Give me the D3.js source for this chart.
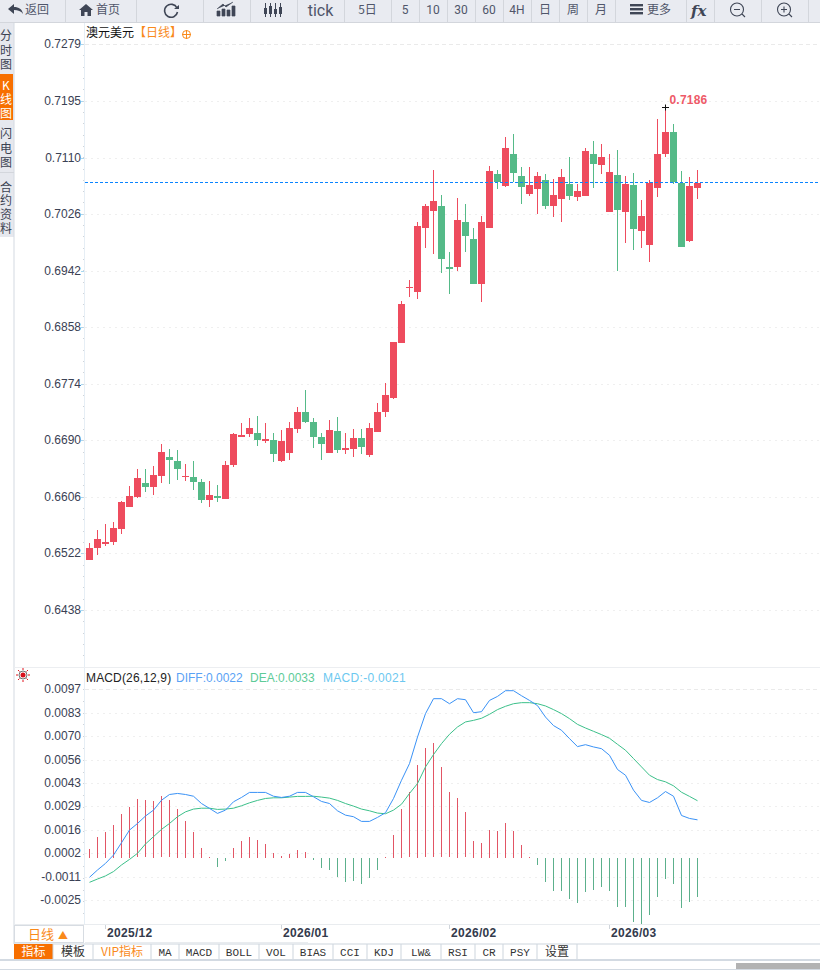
<!DOCTYPE html>
<html><head><meta charset="utf-8">
<script src="https://cdn.jsdelivr.net/npm/d3@7/dist/d3.min.js"></script>
<style>html,body{margin:0;padding:0;background:#fff;overflow:hidden}svg{display:block}</style>
</head><body><svg id="c" width="820" height="970"></svg>
<script>
const priceTicks=["0.7279","0.7195","0.7110","0.7026","0.6942","0.6858","0.6774","0.6690","0.6606","0.6522","0.6438"];
const macdTicks=["0.0097","0.0083","0.0070","0.0056","0.0043","0.0029","0.0016","0.0002","-0.0011","-0.0025"];
const dateLabels=["2025/12","2026/01","2026/02","2026/03"];
const dateIndex=[2,24,45,65];
const lastPrice=0.70738, highPrice=0.7186, highIndex=72;
const open=[.65123,.65301,.65361,.65390,.65583,.65910,.66059,.66267,.66208,.66371,.66653,.66594,.66356,.66356,.66282,.66014,.66074,.66029,.66534,.66950,.66995,.67010,.66891,.66906,.66594,.66713,.67069,.67322,.67173,.66950,.66713,.67040,.66757,.66772,.66936,.66683,.67025,.67322,.67530,.68348,.69170,.69105,.70056,.70309,.70383,.69477,.69477,.70145,.69893,.69224,.70056,.70859,.70680,.71156,.70829,.70561,.70636,.70769,.70382,.70486,.70709,.70516,.70531,.71155,.70992,.70293,.70843,.70293,.70694,.70011,.69803,.70650,.71155,.71482,.70724,.69862,.70650];
const close=[.65301,.65435,.65390,.65598,.65985,.66074,.66341,.66208,.66386,.66728,.66609,.66475,.66371,.66282,.66014,.66089,.66044,.66534,.66995,.66980,.67084,.66906,.66921,.66698,.66891,.67084,.67322,.67173,.66950,.66846,.67054,.66757,.66787,.66936,.66802,.67084,.67322,.67575,.68362,.68927,.69175,.70086,.70383,.70457,.69596,.69447,.70175,.69937,.69224,.70145,.70903,.70740,.71245,.70873,.70665,.70695,.70829,.70383,.70546,.70813,.70531,.70605,.71200,.71006,.71110,.70888,.70323,.70709,.70041,.70234,.70724,.71155,.71482,.70739,.69773,.70680,.70724];
const high=[.65370,.65569,.65658,.65687,.65999,.66222,.66475,.66475,.66520,.66846,.66772,.66757,.66549,.66594,.66326,.66297,.66237,.66594,.67010,.67158,.67233,.67262,.67158,.67010,.67054,.67173,.67396,.67649,.67233,.67010,.67203,.67248,.67010,.67069,.67069,.67158,.67456,.67753,.68362,.68972,.69284,.70145,.70413,.70918,.70547,.69700,.70502,.70413,.70056,.70235,.70977,.70918,.71408,.71453,.70963,.70963,.70888,.70859,.70784,.70932,.71110,.70709,.71244,.71348,.71304,.71155,.71214,.70828,.70873,.70472,.70769,.71675,.71860,.71601,.70902,.70813,.70917];
const low=[.65123,.65197,.65331,.65346,.65509,.65910,.66044,.66133,.66089,.66267,.66252,.66312,.66297,.66163,.65970,.65910,.65985,.66029,.66505,.66950,.66950,.66817,.66861,.66579,.66584,.66609,.67010,.67158,.66787,.66609,.66713,.66713,.66698,.66653,.66698,.66653,.67025,.67248,.67515,.68348,.69031,.69001,.69759,.69670,.69388,.69076,.69417,.69700,.69224,.68957,.70056,.70636,.70665,.70735,.70413,.70532,.70264,.70339,.70219,.70145,.70472,.70457,.70531,.70650,.70858,.70293,.69417,.69833,.69729,.69758,.69550,.70516,.71110,.70709,.69773,.69847,.70486];
const diff=[-.00113,-.00071,-.00033,.00015,.00086,.00159,.00197,.00240,.00274,.00331,.00364,.00370,.00364,.00354,.00312,.00284,.00255,.00274,.00322,.00347,.00376,.00376,.00376,.00354,.00347,.00354,.00376,.00376,.00351,.00324,.00312,.00270,.00245,.00236,.00209,.00209,.00232,.00259,.00341,.00446,.00542,.00695,.00830,.00916,.00916,.00887,.00916,.00910,.00835,.00841,.00906,.00929,.00962,.00962,.00933,.00906,.00876,.00810,.00761,.00734,.00686,.00640,.00651,.00638,.00628,.00590,.00508,.00475,.00389,.00330,.00318,.00345,.00381,.00354,.00243,.00226,.00218];
const dea=[-.00142,-.00123,-.00105,-.00080,-.00042,-.00010,.00025,.00079,.00121,.00163,.00197,.00236,.00264,.00280,.00285,.00285,.00278,.00280,.00285,.00299,.00316,.00330,.00341,.00345,.00345,.00349,.00353,.00353,.00354,.00349,.00343,.00330,.00312,.00297,.00280,.00270,.00257,.00253,.00274,.00308,.00370,.00427,.00523,.00594,.00657,.00711,.00753,.00782,.00791,.00803,.00826,.00853,.00872,.00887,.00893,.00893,.00887,.00874,.00853,.00830,.00801,.00768,.00747,.00728,.00709,.00688,.00653,.00619,.00571,.00523,.00475,.00450,.00437,.00414,.00377,.00353,.00328];
const macdBar=[.00050,.00119,.00148,.00188,.00251,.00291,.00337,.00331,.00326,.00354,.00331,.00280,.00211,.00148,.00056,.00004,-.00054,-.00019,.00056,.00096,.00119,.00102,.00079,.00027,.00010,.00021,.00044,.00033,-.00013,-.00059,-.00071,-.00111,-.00140,-.00134,-.00151,-.00117,-.00071,.00004,.00130,.00280,.00377,.00533,.00630,.00659,.00521,.00377,.00343,.00262,.00096,.00084,.00159,.00153,.00199,.00153,.00073,.00004,-.00042,-.00140,-.00192,-.00192,-.00238,-.00261,-.00197,-.00186,-.00169,-.00192,-.00284,-.00284,-.00370,-.00381,-.00330,-.00226,-.00123,-.00151,-.00289,-.00255,-.00226];
const toolbarCells=["返回","首页","","","","tick","5日","5","10","30","60","4H","日","周","月","更多","","",""];
const toolbarEdges=[0,65,136,203,250,297,344,391,419,447,475,503,531,559,587,615,686,714,761,808];
const bottomTabs=["指标","模板","VIP指标","MA","MACD","BOLL","VOL","BIAS","CCI","KDJ","LW&","RSI","CR","PSY","设置"];
const bottomEdges=[14,53,93,151,179,219,259,293,333,367,401,441,475,503,537,577];
const sideTabs=[["分","时","图"],["K","线","图"],["闪","电","图"],["合","约","资","料"]];
const sideY=[[35,50,64],[85,99,113],[133,148,162],[187,200,214,228]];

const RED="#ee4c5e",GRN="#55ba88",CJK="'Noto Sans CJK SC','Liberation Sans',sans-serif",SANS="'Liberation Sans',Arial,sans-serif";
const svg=d3.select("#c");
const x=d3.scaleLinear().domain([0,76]).range([89.5,697.5]);
const y=d3.scaleLinear().domain([+priceTicks[10],+priceTicks[0]]).range([610,44]);
const ym=d3.scaleLinear().domain([-.00245,.0097]).range([900.2,689.3]);
const px=v=>Math.round(y(v));

// toolbar
const tb=svg.append("g");
tb.append("rect").attr("width",820).attr("height",22).attr("fill","#e9ebf1");
tb.append("rect").attr("y",22).attr("width",820).attr("height",1).attr("fill","#d3d6dc");
tb.selectAll("line").data(toolbarEdges.slice(1)).join("line").attr("x1",d=>d+.5).attr("x2",d=>d+.5).attr("y1",0).attr("y2",22).attr("stroke","#d3d6dc");
const iconOffset={0:4.5,1:7.5,15:8.5};
tb.selectAll("text").data(toolbarCells).join("text")
 .attr("x",(d,i)=>(toolbarEdges[i]+toolbarEdges[i+1])/2+(iconOffset[i]||0)).attr("y",d=>d==="tick"?15.5:14).attr("text-anchor","middle")
 .attr("font-family",d=>/[a-z0-9]/i.test(d)&&!/[日]/.test(d)?"'Roboto',sans-serif":CJK).attr("font-size",d=>d==="tick"?16:12).attr("fill","#50566a").text(d=>d);
const ic="#3f4656";
tb.append("path").attr("d","M8 9l6-5v3c5 0 8 2 9 7-2-3-5-4-9-4v4z").attr("fill",ic);
tb.append("path").attr("d","M79 10l7-6 7 6h-2v6h-3.500v-4h-3v4H81v-6z").attr("fill",ic);
tb.append("path").attr("d","M177 8a6.500 6.500 0 1 0 .5 4").attr("fill","none").attr("stroke",ic).attr("stroke-width",1.6);
tb.append("path").attr("d","M174 9l5 0l0-4z").attr("fill",ic);
tb.append("path").attr("d","M217 16v-5h3v5zM222 16v-7h3v7zM227 16v-6h3v6zM232 16v-10h3v10zM217 9l6-5 3 3 7-5").attr("fill",ic).attr("stroke",ic).attr("stroke-width",.7);
[265,270,275,280].forEach((c,i)=>{tb.append("rect").attr("x",c-1).attr("y",[8,6,9,7][i]).attr("width",3).attr("height",[6,8,5,7][i]).attr("fill",ic);tb.append("rect").attr("x",c).attr("y",3).attr("width",1).attr("height",14).attr("fill",ic);});
[5,9,13].forEach(v=>tb.append("rect").attr("x",630).attr("y",v-1).attr("width",13).attr("height",2.4).attr("fill",ic));
tb.append("text").attr("x",691).attr("y",16).attr("font-family","'DejaVu Serif',serif").attr("font-style","italic").attr("font-weight",700).attr("font-size",15).attr("fill",ic).text("fx");
[[737,"M734 9.500h6"],[784,"M781 9.500h6M784 6.500v6"]].forEach(([c,d])=>{tb.append("circle").attr("cx",c).attr("cy",9.500).attr("r",6.500).attr("fill","none").attr("stroke",ic).attr("stroke-width",1.1);tb.append("path").attr("d",d+` M${c+5} 14l3 3`).attr("fill","none").attr("stroke",ic).attr("stroke-width",1.1);});

// side tabs
const st=svg.append("g");
st.append("rect").attr("y",23).attr("width",14).attr("height",214).attr("fill","#e6e8ee");
st.append("rect").attr("y",74).attr("width",13).attr("height",46).attr("fill","#f76f00");
st.append("rect").attr("x",13.500).attr("y",23).attr("width",1).attr("height",921).attr("fill","#d3dae2");
st.append("rect").attr("y",172).attr("width",14).attr("height",1).attr("fill","#d3d6dc");
sideTabs.forEach((t,i)=>{
 const el=st.append("text").attr("text-anchor","middle").attr("font-family",CJK).attr("font-size",12).attr("fill",i===1?"#fff":"#3c4252");
 t.forEach((c,j)=>el.append("tspan").attr("x",6).attr("y",sideY[i][j]+4.500).text(c));
});

// grid + axes
const g=svg.append("g");
g.append("rect").attr("x",84).attr("y",23).attr("width",1).attr("height",902).attr("fill","#e6eef5");
g.append("rect").attr("x",14).attr("y",667).attr("width",806).attr("height",1).attr("fill","#eceef1");
g.selectAll(".gp").data(priceTicks).join("line").attr("class","gp").attr("x1",85).attr("x2",820).attr("y1",d=>px(+d)+.5).attr("y2",d=>px(+d)+.5).attr("stroke",(d,i)=>i?"#efefef":"#eaeaea").attr("stroke-dasharray",(d,i)=>i?"2,4":"4,3");
g.selectAll(".gm").data(macdTicks).join("line").attr("class","gm").attr("x1",85).attr("x2",820)
 .attr("y1",(d,i)=>Math.round(ym(.0097-i*.00135))+.5).attr("y2",(d,i)=>Math.round(ym(.0097-i*.00135))+.5).attr("stroke",(d,i)=>i?"#efefef":"#eaeaea").attr("stroke-dasharray",(d,i)=>i?"2,4":"4,3");
g.selectAll(".tp").data(priceTicks).join("text").attr("class","tp").attr("x",81).attr("y",d=>px(+d)+3.500).attr("text-anchor","end").attr("font-family",SANS).attr("font-size",12).attr("fill","#3a4154").text(d=>d);
g.selectAll(".tm").data(macdTicks).join("text").attr("class","tm").attr("x",81).attr("y",(d,i)=>Math.round(ym(.0097-i*.00135))+3.500).attr("text-anchor","end").attr("font-family",SANS).attr("font-size",12).attr("fill","#3a4154").text(d=>d);
g.selectAll(".tk").data(priceTicks).join("rect").attr("class","tk").attr("x",81).attr("y",d=>px(+d)).attr("width",3).attr("height",1).attr("fill","#a9d8f0");
const minor=d3.range(44,660,11.32);
g.selectAll(".mn").data(minor).join("rect").attr("class","mn").attr("x",83).attr("y",d=>Math.round(d)).attr("width",1).attr("height",1).attr("fill","#cfd4da");
const minorM=d3.range(689,925,11.8);
g.selectAll(".mm").data(minorM).join("rect").attr("class","mm").attr("x",83).attr("y",d=>Math.round(d)).attr("width",1).attr("height",1).attr("fill","#cfd4da");

// titles
const tt=svg.append("g").attr("font-size",12);
tt.append("text").attr("x",86).attr("y",37).attr("font-family",CJK).attr("fill","#111").text("澳元美元");
tt.append("text").attr("x",134).attr("y",37).attr("font-family",CJK).attr("fill","#f98a1b").text("【日线】");
tt.append("circle").attr("cx",186.500).attr("cy",34.500).attr("r",4).attr("fill","none").attr("stroke","#f98a1b");
tt.append("path").attr("d","M182 34.500h9M186.500 30v9").attr("stroke","#f98a1b");
tt.append("text").attr("x",86).attr("y",681.500).attr("font-family",SANS).attr("letter-spacing",.15).attr("fill","#222").text("MACD(26,12,9)");
tt.append("text").attr("x",176).attr("y",681.500).attr("font-family",SANS).attr("fill","#5aa2f5").text("DIFF:0.0022");
tt.append("text").attr("x",250).attr("y",681.500).attr("font-family",SANS).attr("fill","#5ecb98").text("DEA:0.0033");
tt.append("text").attr("x",323).attr("y",681.500).attr("font-family",SANS).attr("letter-spacing",.3).attr("fill","#6cc8f0").text("MACD:-0.0021");
tt.append("circle").attr("cx",23).attr("cy",675).attr("r",2.500).attr("fill","#d8101c");
tt.append("circle").attr("cx",23).attr("cy",675).attr("r",4).attr("fill","none").attr("stroke","#333").attr("stroke-width",.7);
tt.append("path").attr("d","M23 668v2M23 680v2M16 675h2M28 675h2M18 670l1.500 1.500M28 670l-1.500 1.500M18 680l1.500-1.500M28 680l-1.500-1.500").attr("stroke","#e0141f");

// candles
const candles=svg.append("g");
candles.selectAll(".w").data(d3.range(open.length)).join("rect").attr("class","w")
 .attr("x",i=>x(i)-.5).attr("width",1).attr("y",i=>px(high[i])).attr("height",i=>Math.max(1,px(low[i])-px(high[i])))
 .attr("fill",i=>close[i]>=open[i]?RED:GRN);
candles.selectAll(".b").data(d3.range(open.length)).join("rect").attr("class","b")
 .attr("x",i=>x(i)-3.500).attr("width",7)
 .attr("y",i=>px(Math.max(open[i],close[i]))).attr("height",i=>Math.max(1,px(Math.min(open[i],close[i]))-px(Math.max(open[i],close[i]))))
 .attr("fill",i=>close[i]>=open[i]?RED:GRN);
svg.append("line").attr("x1",85).attr("x2",820).attr("y1",px(lastPrice)+.5).attr("y2",px(lastPrice)+.5).attr("stroke","#0a84ff").attr("stroke-width",1).attr("stroke-dasharray","3,2").attr("shape-rendering","crispEdges");
const hx=x(highIndex),hy=px(highPrice)+.5;
svg.append("path").attr("d",`M${hx-3.500} ${hy}h7M${hx} ${hy-3}v6`).attr("stroke","#111");
svg.append("text").attr("x",hx+4).attr("y",hy-4).attr("font-family",SANS).attr("font-weight",700).attr("font-size",12).attr("letter-spacing",.2).attr("fill","#ee5a68").text(highPrice.toFixed(4));

// macd
const m=svg.append("g");
m.selectAll("rect").data(macdBar).join("rect").attr("x",(d,i)=>x(i)-.5).attr("width",1)
 .attr("y",d=>Math.round(d>=0?ym(d):ym(0))).attr("height",d=>Math.max(1,Math.round(Math.abs(ym(d)-ym(0)))))
 .attr("fill",d=>d>=0?"#e25565":"#5cb08c");
const ln=d3.line().x((d,i)=>x(i)).y(d=>ym(d));
m.append("path").attr("d",ln(dea)).attr("fill","none").attr("stroke","#3cc08a");
m.append("path").attr("d",ln(diff)).attr("fill","none").attr("stroke","#3a92f6");

// date axis
const da=svg.append("g");
da.append("rect").attr("x",14).attr("y",924).attr("width",806).attr("height",1).attr("fill","#e9ecef");
da.append("rect").attr("x",14.500).attr("y",925.500).attr("width",69).attr("height",17).attr("fill","#fff").attr("stroke","#d7dce2");
da.append("text").attr("x",28).attr("y",939).attr("font-family",CJK).attr("font-size",13).attr("fill","#f98a1b").text("日线");
da.append("text").attr("x",58).attr("y",938.500).attr("font-family",CJK).attr("font-size",10).attr("fill","#f98a1b").text("▲");
da.append("rect").attr("x",85).attr("y",942).attr("width",223).attr("height",1).attr("fill","#e9ecef");
dateLabels.forEach((t,i)=>{
 da.append("rect").attr("x",x(dateIndex[i])-.5).attr("y",925).attr("width",1).attr("height",4).attr("fill","#cfd4da");
 da.append("text").attr("x",x(dateIndex[i])+1.500).attr("y",937).attr("font-family",SANS).attr("font-weight",700).attr("font-size",12).attr("letter-spacing",.3).attr("fill","#333a4c").text(t);
});

// bottom tabs
const bt=svg.append("g");
bt.append("rect").attr("x",14).attr("y",943.500).attr("width",806).attr("height",1).attr("fill","#cdd5dd");
bt.append("rect").attr("x",0).attr("y",959).attr("width",820).attr("height",2).attr("fill","#d3dae2");
bt.append("rect").attr("x",0).attr("y",969).attr("width",820).attr("height",1).attr("fill","#d3dae2");
bt.append("rect").attr("x",736).attr("y",963).attr("width",84).attr("height",6).attr("fill","#b3b3b3");
bt.append("rect").attr("x",14).attr("y",944).attr("width",39).attr("height",15).attr("fill","#f76f00");
bottomTabs.forEach((t,i)=>{
 bt.append("rect").attr("x",bottomEdges[i+1]-.5).attr("y",944).attr("width",1).attr("height",15).attr("fill","#cdd5dd");
 bt.append("text").attr("x",(bottomEdges[i]+bottomEdges[i+1])/2).attr("y",956).attr("text-anchor","middle")
  .attr("font-family",/[A-Z]/.test(t)&&i!==2?"'Liberation Mono',monospace":"'Noto Sans CJK SC',sans-serif").attr("font-size",/[A-Z]/.test(t)&&i!==2?11:12)
  .attr("fill",i===0?"#fff":i===2?"#f98a1b":"#333").text(t);
});
</script></body></html>
